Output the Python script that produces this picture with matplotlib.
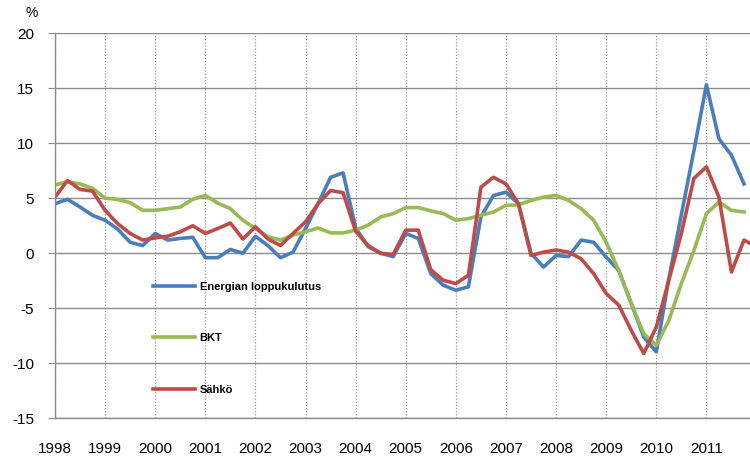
import numpy as np
import matplotlib
matplotlib.use("Agg")
import matplotlib.pyplot as plt

plt.rcParams['font.family'] = ['Liberation Sans', 'DejaVu Sans']
plt.rcParams['axes.unicode_minus'] = False

# Quarterly change, % (1998Q1 ... 2011Q4)
energia = [4.5, 4.9, 4.2, 3.45, 3.0, 2.2, 1.0, 0.7,
           1.8, 1.2, 1.35, 1.45, -0.4, -0.4, 0.35, 0.0,
           1.55, 0.7, -0.4, 0.1, 2.25, 4.5, 6.9, 7.3,
           2.3, 0.6, 0.0, -0.3, 1.8, 1.35, -1.85, -2.9,
           -3.35, -3.05, 3.3, 5.25, 5.55, 4.5, 0.0, -1.25,
           -0.2, -0.3, 1.2, 1.0, -0.35, -1.55, -4.55, -7.6,
           -8.95, -2.3, 3.5, 9.3, 15.3, 10.4, 8.9, 6.3]
bkt = [6.2, 6.5, 6.3, 5.9, 5.0, 4.9, 4.6, 3.9,
       3.9, 4.05, 4.2, 4.9, 5.25, 4.55, 4.05, 3.0,
       2.25, 1.5, 1.2, 1.65, 1.95, 2.3, 1.85, 1.85,
       2.1, 2.55, 3.3, 3.6, 4.15, 4.15, 3.85, 3.6,
       3.0, 3.15, 3.45, 3.75, 4.35, 4.4, 4.8, 5.1,
       5.25, 4.8, 4.05, 3.0, 1.0, -1.55, -4.55, -7.3,
       -8.35, -6.1, -2.75, 0.25, 3.6, 4.65, 3.9, 3.75]
sahko = [5.1, 6.6, 5.8, 5.65, 3.9, 2.7, 1.8, 1.2,
         1.4, 1.55, 1.95, 2.5, 1.8, 2.25, 2.75, 1.3,
         2.4, 1.3, 0.7, 1.8, 2.85, 4.5, 5.7, 5.5,
         2.0, 0.7, 0.0, -0.1, 2.1, 2.1, -1.5, -2.45,
         -2.75, -2.0, 6.0, 6.9, 6.3, 4.5, -0.2, 0.1,
         0.3, 0.1, -0.5, -1.85, -3.65, -4.7, -7.0, -9.1,
         -6.7, -2.45, 1.8, 6.8, 7.85, 5.1, -1.7, 1.2, 0.6]
years = list(range(1998, 2012))

x_e = 1998 + np.arange(len(energia)) / 4
x_b = 1998 + np.arange(len(bkt)) / 4
x_s = 1998 + np.arange(len(sahko)) / 4

fig = plt.figure(figsize=(7.5, 4.61), dpi=100)
ax = fig.add_axes([0.0733, 0.0922, 0.9267, 0.8362])

ax.plot(x_e, energia, color='#4a7ebb', lw=2.6, label='Energian loppukulutus')
ax.plot(x_b, bkt, color='#98b954', lw=2.6, label='BKT')
ax.plot(x_s, sahko, color='#be4b48', lw=2.6, label='Sähkö')

ax.set_xlim(1998, 2011.87)
ax.set_ylim(-15, 20)
ax.set_yticks(range(-15, 21, 5))
ax.set_xticks(years)
ax.set_xticklabels([str(y) for y in years])

ax.grid(axis='y', color='#8c8c8c', lw=1.0, ls='-')
ax.grid(axis='x', color='#9a9a9a', lw=0.9, ls=(0, (1, 1.5)))
ax.set_axisbelow(True)

for s in ['top', 'right']:
    ax.spines[s].set_visible(False)
for s in ['left', 'bottom']:
    ax.spines[s].set_color('#8c8c8c')
    ax.spines[s].set_linewidth(1.0)

ax.tick_params(axis='y', length=5, color='#8c8c8c', pad=10, labelsize=11)
ax.tick_params(axis='x', length=0, pad=17, labelsize=11)

ax.text(-0.033, 1.052, '%', transform=ax.transAxes, ha='center', va='center',
        fontsize=10)

ax.legend(loc='center left', bbox_to_anchor=(0.141, 0.208), frameon=False,
          borderpad=0, borderaxespad=0, handlelength=3.8, handletextpad=0.4,
          labelspacing=3.75, prop={'size': 8, 'weight': 'bold'})

fig.savefig('out.png', dpi=100)
